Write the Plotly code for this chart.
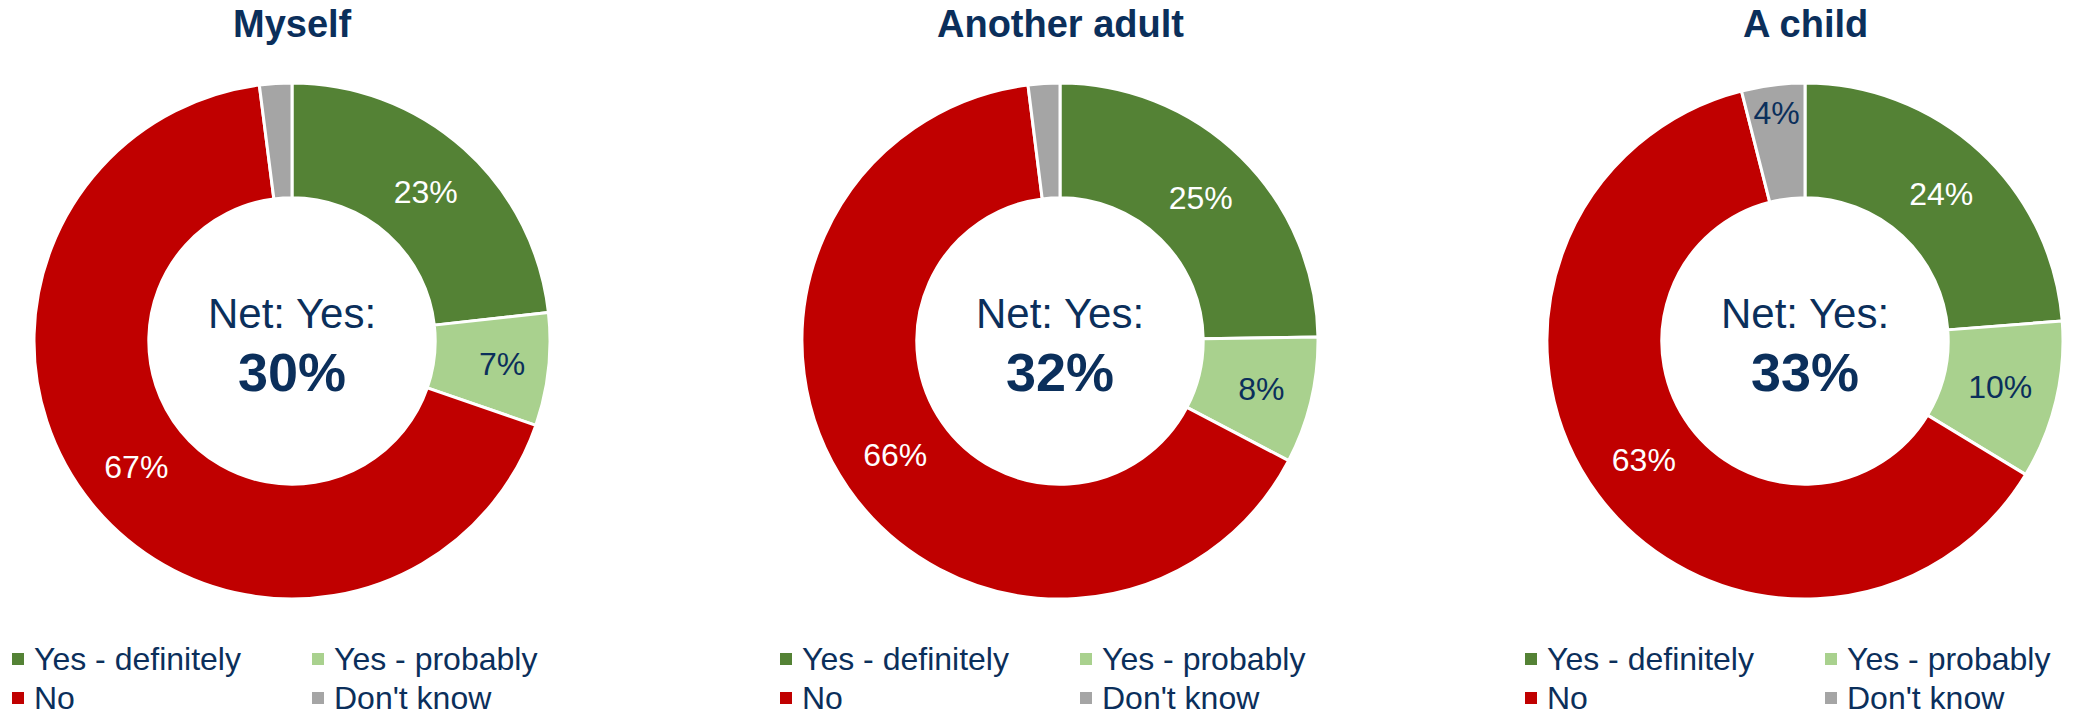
import plotly.graph_objects as go

# Survey answers per subject (percent of respondents)
categories = ["Yes - definitely", "Yes - probably", "No", "Don't know"]
panels = ["Myself", "Another adult", "A child"]
myself = [23, 7, 67, 2]
another_adult = [25, 8, 66, 2]
a_child = [24, 10, 63, 4]
net_yes = [30, 32, 33]
# which slices carry a printed value
show_label = [
    [True, True, True, False],
    [True, True, True, False],
    [True, True, True, True],
]

colors = ["#548235", "#A9D18E", "#C00000", "#A5A5A5"]
label_colors = ["#FFFFFF", "#0B2F5B", "#FFFFFF", "#0B2F5B"]
NAVY = "#0B2F5B"
FONT = "Liberation Sans, Arial, sans-serif"

W, H = 2074, 718
centers_px = [292, 1060, 1805]
cy_px = 341
radius_px = 258

fig = go.Figure()
series = [myself, another_adult, a_child]

for i, vals in enumerate(series):
    cx = centers_px[i]
    texts = [f"{v}%" if s else "" for v, s in zip(vals, show_label[i])]
    fig.add_trace(go.Pie(
        labels=categories,
        values=vals,
        text=texts,
        textinfo="text",
        textposition="inside",
        insidetextorientation="horizontal",
        textfont=dict(family=FONT, size=32, color=label_colors),
        marker=dict(colors=colors, line=dict(color="white", width=3)),
        hole=0.555,
        sort=False,
        direction="clockwise",
        rotation=0,
        showlegend=False,
        hoverinfo="skip",
        domain=dict(
            x=[(cx - radius_px) / W, (cx + radius_px) / W],
            y=[1 - (cy_px + radius_px) / H, 1 - (cy_px - radius_px) / H],
        ),
    ))

    # panel title
    fig.add_annotation(
        x=cx / W, y=1 - 24 / H, xref="paper", yref="paper",
        text=f"<b>{panels[i]}</b>", showarrow=False,
        font=dict(family=FONT, size=38, color=NAVY),
        xanchor="center", yanchor="middle",
    )
    # centre summary
    fig.add_annotation(
        x=cx / W, y=1 - 313 / H, xref="paper", yref="paper",
        text="Net: Yes:", showarrow=False,
        font=dict(family=FONT, size=42, color=NAVY),
        xanchor="center", yanchor="middle",
    )
    fig.add_annotation(
        x=cx / W, y=1 - 372 / H, xref="paper", yref="paper",
        text=f"<b>{net_yes[i]}%</b>", showarrow=False,
        font=dict(family=FONT, size=54, color=NAVY),
        xanchor="center", yanchor="middle",
    )

    # two-column legend under each donut
    left = cx - 280
    col_off = [0, 300]
    row_y = [659, 698]
    for k, cat in enumerate(categories):
        col = k % 2
        row = k // 2
        mx = left + col_off[col]
        my = row_y[row]
        fig.add_shape(
            type="rect", xref="paper", yref="paper",
            x0=mx / W, x1=(mx + 12) / W,
            y0=1 - (my + 6) / H, y1=1 - (my - 6) / H,
            fillcolor=colors[k], line=dict(width=0),
        )
        fig.add_annotation(
            x=(mx + 20) / W, y=1 - my / H, xref="paper", yref="paper",
            text=cat, showarrow=False,
            font=dict(family=FONT, size=32, color=NAVY),
            xanchor="left", yanchor="middle",
        )

fig.update_layout(
    width=W, height=H,
    margin=dict(l=0, r=0, t=0, b=0),
    paper_bgcolor="white",
    plot_bgcolor="white",
    uniformtext=dict(minsize=32, mode="show"),
)

fig.write_html("out.html")
